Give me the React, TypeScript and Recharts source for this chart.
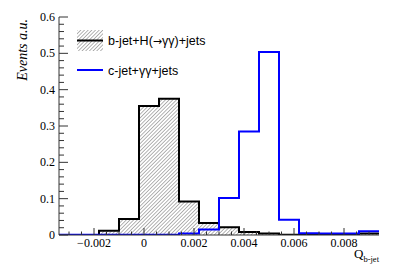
import { ComposedChart, Area, Line, XAxis, YAxis } from 'recharts'

// bin lower edges (last entry = upper edge of last bin)
const binEdges = [
  -0.0034, -0.0026, -0.0018, -0.001, -0.0002, 0.0006, 0.0014, 0.0022, 0.003,
  0.0038, 0.0046, 0.0054, 0.0062, 0.007, 0.0078, 0.0086, 0.0094,
]
const bJetEvents = [
  0, 0, 0.012, 0.044, 0.355, 0.375, 0.092, 0.033, 0.021, 0.008, 0.004, 0.001,
  0.001, 0.0005, 0.001, 0.004,
]
const cJetEvents = [
  0.001, 0.001, 0.001, 0.001, 0.001, 0.001, 0.004, 0.015, 0.102, 0.285, 0.504,
  0.042, 0.005, 0.004, 0.004, 0.01,
]
const xTicks = [
  -0.003, -0.0025, -0.002, -0.0015, -0.001, -0.0005, 0, 0.0005, 0.001, 0.0015,
  0.002, 0.0025, 0.003, 0.0035, 0.004, 0.0045, 0.005, 0.0055, 0.006, 0.0065,
  0.007, 0.0075, 0.008, 0.0085, 0.009,
]
const xLabels = [-0.002, 0, 0.002, 0.004, 0.006, 0.008]
const yTicks = [
  0, 0.02, 0.04, 0.06, 0.08, 0.1, 0.12, 0.14, 0.16, 0.18, 0.2, 0.22, 0.24, 0.26,
  0.28, 0.3, 0.32, 0.34, 0.36, 0.38, 0.4, 0.42, 0.44, 0.46, 0.48, 0.5, 0.52,
  0.54, 0.56, 0.58, 0.6,
]
const yLabels = [0, 0.1, 0.2, 0.3, 0.4, 0.5, 0.6]

const data = binEdges.map((x, i) => {
  const k = Math.min(i, bJetEvents.length - 1)
  return { x, b: bJetEvents[k], c: cJetEvents[k] }
})

const AXIS = '#333'
const SERIF = '"Liberation Serif", "DejaVu Serif", serif'
const SANS = '"Liberation Sans", Arial, sans-serif'

const isMajorX = (v: number) => xLabels.some((l) => Math.abs(l - v) < 1e-9)
const isMajorY = (v: number) => yLabels.some((l) => Math.abs(l - v) < 1e-9)

const fmtX = (v: number) => {
  if (Math.abs(v) < 1e-12) return '0'
  const s = Math.abs(v).toFixed(3)
  return v < 0 ? '\u2212' + s : s
}

function BottomTick(props: any) {
  const { x, y, payload } = props
  const major = isMajorX(payload.value)
  return (
    <g>
      <line x1={x} y1={y} x2={x} y2={y - (major ? 7 : 3.5)} stroke={AXIS} />
      {major && (
        <text x={x} y={y + 12} textAnchor="middle" fontFamily={SERIF} fontSize={12} fill="#000">
          {fmtX(payload.value)}
        </text>
      )}
    </g>
  )
}

function TopTick(props: any) {
  const { x, y, payload } = props
  const major = isMajorX(payload.value)
  return <line x1={x} y1={y} x2={x} y2={y + (major ? 7 : 3.5)} stroke={AXIS} />
}

function LeftTick(props: any) {
  const { x, y, payload } = props
  const major = isMajorY(payload.value)
  return (
    <g>
      <line x1={x} y1={y} x2={x + (major ? 9 : 5)} y2={y} stroke={AXIS} />
      {major && (
        <text x={x - 4} y={y + 4} textAnchor="end" fontFamily={SERIF} fontSize={12} fill="#000">
          {payload.value === 0 ? '0' : payload.value.toFixed(1)}
        </text>
      )}
    </g>
  )
}

function RightTick(props: any) {
  const { x, y, payload } = props
  const major = isMajorY(payload.value)
  return <line x1={x} y1={y} x2={x - (major ? 9 : 5)} y2={y} stroke={AXIS} />
}

export default function App() {
  return (
    <div style={{ position: 'absolute', left: 0, top: 0, width: 400, height: 273, background: '#fff' }}>
      <ComposedChart
        width={400}
        height={273}
        data={data}
        margin={{ top: 17, right: 21, left: 0, bottom: 0 }}
      >
        <defs>
          <pattern id="hatch" width="2.6" height="2.6" patternUnits="userSpaceOnUse" patternTransform="rotate(45)">
            <rect width="2.6" height="2.6" fill="#fff" />
            <line x1="0" y1="0" x2="0" y2="2.6" stroke="#777" strokeWidth="1.1" />
          </pattern>
        </defs>
        <XAxis
          xAxisId="x"
          dataKey="x"
          type="number"
          domain={[-0.0034, 0.0094]}
          allowDataOverflow
          ticks={xTicks}
          interval={0}
          tickSize={0}
          tickMargin={0}
          tickLine={false}
          tick={<BottomTick />}
          axisLine={{ stroke: AXIS }}
          height={38}
        />
        <XAxis
          xAxisId="xt"
          orientation="top"
          dataKey="x"
          type="number"
          domain={[-0.0034, 0.0094]}
          allowDataOverflow
          ticks={xTicks}
          interval={0}
          tickSize={0}
          tickMargin={0}
          tickLine={false}
          tick={<TopTick />}
          axisLine={{ stroke: AXIS }}
          height={0}
        />
        <YAxis
          yAxisId="y"
          type="number"
          domain={[0, 0.6]}
          allowDataOverflow
          ticks={yTicks}
          interval={0}
          tickSize={0}
          tickMargin={0}
          tickLine={false}
          tick={<LeftTick />}
          axisLine={{ stroke: AXIS }}
          width={59}
        />
        <YAxis
          yAxisId="yr"
          orientation="right"
          type="number"
          domain={[0, 0.6]}
          allowDataOverflow
          ticks={yTicks}
          interval={0}
          tickSize={0}
          tickMargin={0}
          tickLine={false}
          tick={<RightTick />}
          axisLine={{ stroke: AXIS }}
          width={0}
        />
        <Area
          xAxisId="x"
          yAxisId="y"
          type="stepAfter"
          dataKey="b"
          baseValue={0}
          stroke="#000"
          strokeWidth={2}
          fill="url(#hatch)"
          fillOpacity={1}
          dot={false}
          activeDot={false}
          isAnimationActive={false}
        />
        <Line
          xAxisId="x"
          yAxisId="y"
          type="stepAfter"
          dataKey="c"
          stroke="#0000ff"
          strokeWidth={2}
          dot={false}
          activeDot={false}
          isAnimationActive={false}
        />
      </ComposedChart>
      <svg
        width={400}
        height={273}
        style={{ position: 'absolute', left: 0, top: 0, pointerEvents: 'none' }}
      >
        <defs>
          <pattern id="hatchLeg" width="2.6" height="2.6" patternUnits="userSpaceOnUse" patternTransform="rotate(45)">
            <rect width="2.6" height="2.6" fill="#fff" />
            <line x1="0" y1="0" x2="0" y2="2.6" stroke="#777" strokeWidth="1.1" />
          </pattern>
        </defs>
        <rect x={77} y={30} width={26} height={21} fill="url(#hatchLeg)" />
        <line x1={77} y1={40.5} x2={103} y2={40.5} stroke="#000" strokeWidth={2} />
        <text x={108} y={45} fontFamily={SANS} fontSize={12.5} fill="#000">
          b-jet+H(<tspan fontFamily='"DejaVu Sans", sans-serif' fontSize={11}>→</tspan>γγ)+jets
        </text>
        <line x1={77} y1={70} x2={103} y2={70} stroke="#0000ff" strokeWidth={2} />
        <text x={108} y={74.5} fontFamily={SANS} fontSize={12.5} fill="#000">
          c-jet+γγ+jets
        </text>
        <text
          transform="translate(27,19) rotate(-90)"
          textAnchor="end"
          fontFamily={SERIF}
          fontStyle="italic"
          fontSize={14}
          fill="#000"
        >
          Events a.u.
        </text>
        <text x={379} y={258} textAnchor="end" fontFamily={SERIF} fontSize={13} fill="#000">
          Q<tspan fontSize={8.5} dy={4}>b-jet</tspan>
        </text>
      </svg>
    </div>
  )
}
